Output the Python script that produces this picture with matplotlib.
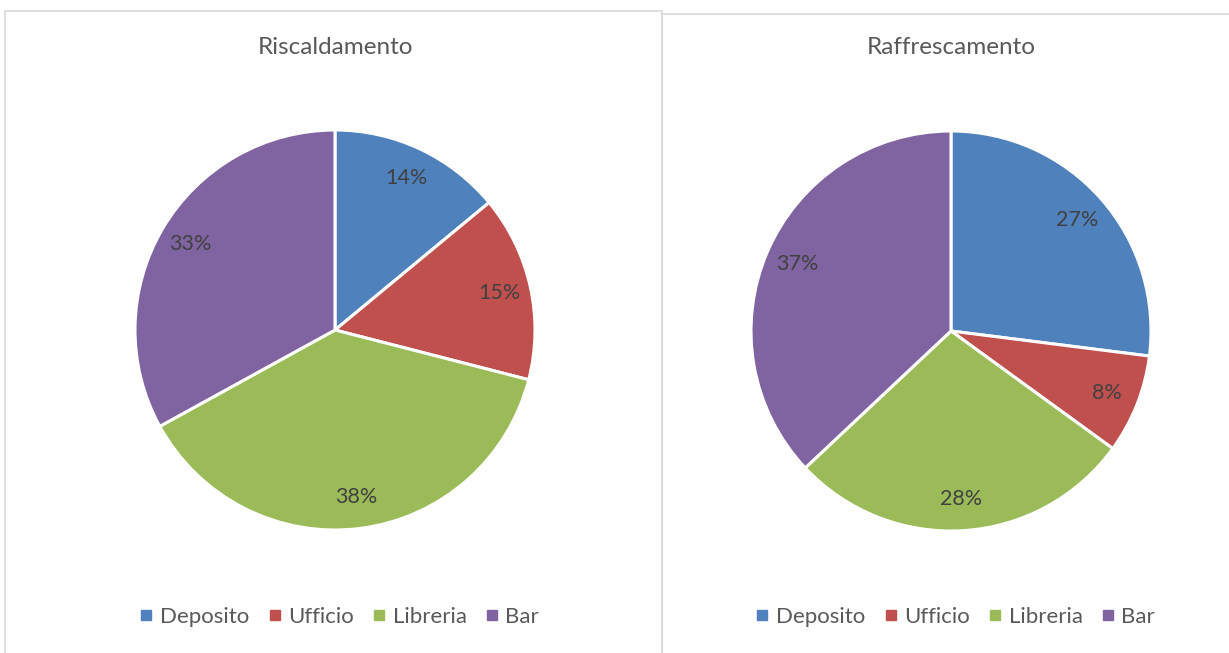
import matplotlib.pyplot as plt
from matplotlib.lines import Line2D
from matplotlib.patches import Rectangle

plt.rcParams['font.family'] = ['Lato', 'DejaVu Sans']

# data
categorie = ['Deposito', 'Ufficio', 'Libreria', 'Bar']
riscaldamento = [14, 15, 38, 33]
raffrescamento = [27, 8, 28, 37]
titoli = ['Riscaldamento', 'Raffrescamento']
colori = ['#4F81BD', '#C0504D', '#9BBB59', '#8064A2']

W, H = 1229, 653
fig = plt.figure(figsize=(W / 100, H / 100), dpi=100)
fig.patch.set_facecolor('white')


def px_box(x0, y0, x1, y1):
    # pixel box (top-down) -> figure fraction [left, bottom, width, height]
    return [x0 / W, (H - y1) / H, (x1 - x0) / W, (y1 - y0) / H]


# chart borders
for (x0, y0, x1, y1) in [(5, 11, 662, 660), (662, 14, 1235, 660)]:
    b = px_box(x0, y0, x1, y1)
    fig.patches.append(Rectangle((b[0], b[1]), b[2], b[3], transform=fig.transFigure,
                                 fill=False, edgecolor='#D9D9D9', linewidth=1.2))

panels = [
    (riscaldamento, titoli[0], (335, 330), 340),
    (raffrescamento, titoli[1], (951, 331), 956),
]

for valori, titolo, (cx, cy), leg_x in panels:
    r = 200
    ax = fig.add_axes(px_box(cx - r, cy - r, cx + r, cy + r))
    wedges, texts, autotexts = ax.pie(
        valori, colors=colori, startangle=90, counterclock=False,
        autopct='%1.0f%%', pctdistance=0.84,
        wedgeprops=dict(edgecolor='white', linewidth=2.2),
        textprops=dict(color='#404040', fontsize=15.5))
    ax.set_xlim(-1, 1)
    ax.set_ylim(-1, 1)
    ax.set_aspect('equal')

    fig.text(cx / W, 1 - 47 / H, titolo, ha='center', va='center',
             fontsize=17.5, color='#595959')

    handles = [Line2D([], [], marker='s', linestyle='', markersize=7,
                      markerfacecolor=c, markeredgecolor=c) for c in colori]
    fig.legend(handles, categorie, loc='center', bbox_to_anchor=(leg_x / W, 1 - 617 / H),
               ncol=4, frameon=False, handlelength=0.5, handletextpad=0.35,
               columnspacing=0.9, prop=dict(size=16), labelcolor='#595959')

fig.savefig('out.png', dpi=100, facecolor='white')
